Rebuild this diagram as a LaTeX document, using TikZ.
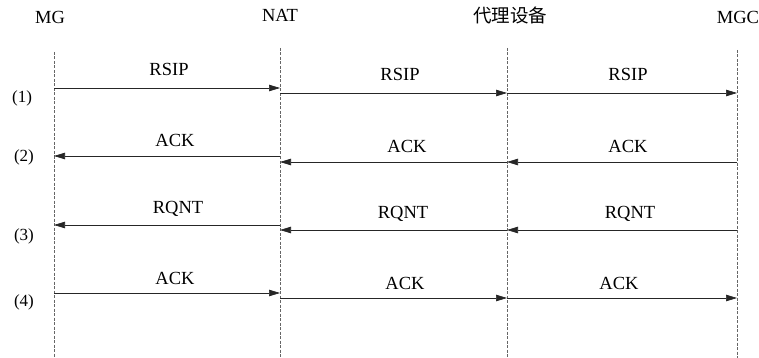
\documentclass[tikz,border=0pt]{standalone}
\usepackage{fontspec}
\setmainfont{Liberation Serif}
\newfontfamily\cjk{Noto Sans CJK SC}
\usetikzlibrary{arrows.meta}
\begin{document}
\begin{tikzpicture}[x=1pt,y=-1pt,
  lifeline/.style={draw=black!60, line width=0.6pt, dash pattern=on 3pt off 1.5pt},
  msg/.style={draw=black!85, line width=0.7pt, -{Triangle[length=11pt,width=6.5pt]}},
  lbl/.style={font=\fontsize{18.5}{20}\selectfont, inner sep=0pt},
  hdr/.style={font=\fontsize{18.5}{20}\selectfont, inner sep=0pt},
  num/.style={font=\fontsize{17}{19}\selectfont, inner sep=0pt}]
\useasboundingbox (0,0) rectangle (759,358);
% headers
\node[hdr] (hmg) at (50,17) {MG};
\node[hdr] (hnat) at (280,15) {NAT};
\node[hdr] (hpx) at (510,15) {\cjk 代理设备};
\node[hdr] (hmgc) at (738,17) {MGC};
% lifelines
\coordinate (mgT) at (54,52); \coordinate (mgB) at (54,358);
\coordinate (natT) at (280,48); \coordinate (natB) at (280,358);
\coordinate (pxT) at (507,48); \coordinate (pxB) at (507,358);
\coordinate (mgcT) at (737,50); \coordinate (mgcB) at (737,358);
\draw[lifeline] (mgT) -- (mgB);
\draw[lifeline] (natT) -- (natB);
\draw[lifeline] (pxT) -- (pxB);
\draw[lifeline] (mgcT) -- (mgcB);
% row labels
\node[num] (r1) at (22,98) {(1)};
\node[num] (r2) at (24,157) {(2)};
\node[num] (r3) at (24,236) {(3)};
\node[num] (r4) at (24,302) {(4)};
% message endpoints
\coordinate (a1) at (54,88);  \coordinate (b1) at (280,88);
\coordinate (c1) at (280,93); \coordinate (d1) at (507,93);
\coordinate (e1) at (507,93); \coordinate (f1) at (737,93);
\coordinate (a2) at (54,156);  \coordinate (b2) at (280,156);
\coordinate (c2) at (280,162); \coordinate (d2) at (507,162);
\coordinate (e2) at (507,162); \coordinate (f2) at (737,162);
\coordinate (a3) at (54,225);  \coordinate (b3) at (280,225);
\coordinate (c3) at (280,230); \coordinate (d3) at (507,230);
\coordinate (e3) at (507,230); \coordinate (f3) at (737,230);
\coordinate (a4) at (54,293);  \coordinate (b4) at (280,293);
\coordinate (c4) at (280,298); \coordinate (d4) at (507,298);
\coordinate (e4) at (507,298); \coordinate (f4) at (737,298);
% messages
\draw[msg] (a1) -- (b1);
\draw[msg] (c1) -- (d1);
\draw[msg] (e1) -- (f1);
\draw[msg] (b2) -- (a2);
\draw[msg] (d2) -- (c2);
\draw[msg] (f2) -- (e2);
\draw[msg] (b3) -- (a3);
\draw[msg] (d3) -- (c3);
\draw[msg] (f3) -- (e3);
\draw[msg] (a4) -- (b4);
\draw[msg] (c4) -- (d4);
\draw[msg] (e4) -- (f4);
% labels
\node[lbl] (l1a) at (169,69) {RSIP};
\node[lbl] (l1b) at (400,74) {RSIP};
\node[lbl] (l1c) at (628,74) {RSIP};
\node[lbl] (l2a) at (175,140) {ACK};
\node[lbl] (l2b) at (407,146) {ACK};
\node[lbl] (l2c) at (628,146) {ACK};
\node[lbl] (l3a) at (178,209) {RQNT};
\node[lbl] (l3b) at (403,214) {RQNT};
\node[lbl] (l3c) at (630,214) {RQNT};
\node[lbl] (l4a) at (175,278) {ACK};
\node[lbl] (l4b) at (405,283) {ACK};
\node[lbl] (l4c) at (619,283) {ACK};
\end{tikzpicture}
\end{document}
